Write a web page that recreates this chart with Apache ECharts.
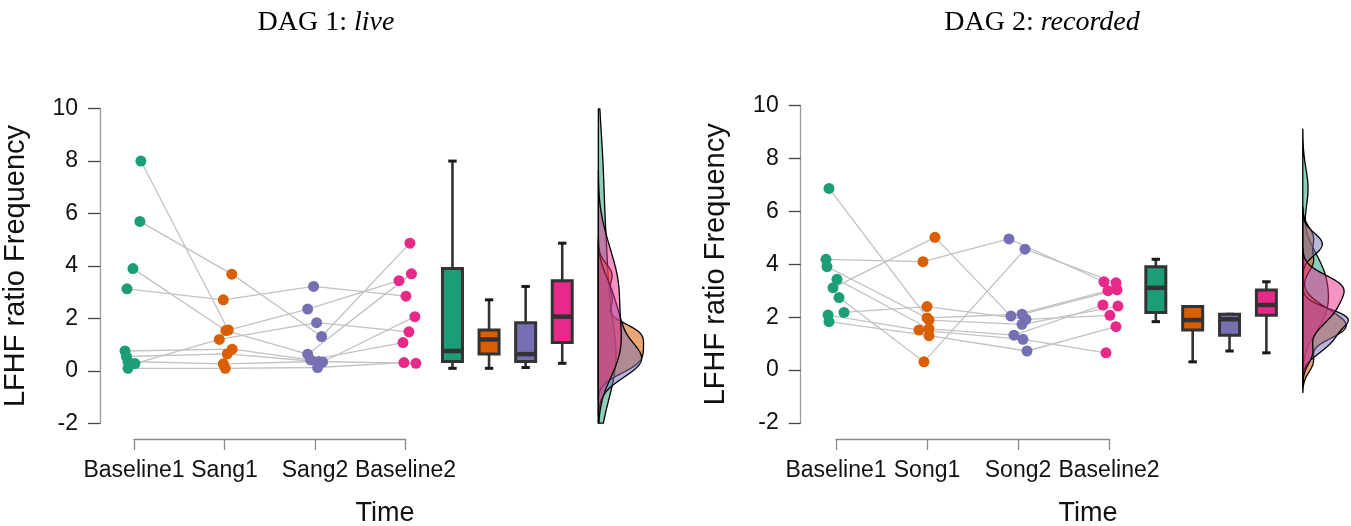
<!DOCTYPE html>
<html>
<head>
<meta charset="utf-8">
<script src="https://cdn.jsdelivr.net/npm/echarts@6/dist/echarts.min.js"></script>
<style>
  html, body { margin: 0; padding: 0; background: #ffffff; }
  #chart { width: 1351px; height: 526px; }
</style>
</head>
<body>
<div id="chart"></div>
<script>
// ---- data -------------------------------------------------------------
const timeLabelsLive = ['Baseline1', 'Sang1', 'Sang2', 'Baseline2'];
const timeLabelsRecorded = ['Baseline1', 'Song1', 'Song2', 'Baseline2'];
const yTickValues = [-2, 0, 2, 4, 6, 8, 10];

// LF/HF ratio, one entry per participant (same participant order in every array)
// DAG 1: live
const liveBaseline1 = [8.00, 5.70, 3.90, 3.13, 0.76, 0.55, 0.28, 0.36, 0.10];
const liveSang1     = [1.56, 3.69, 1.54, 2.71, 0.83, 0.65, 1.20, 0.27, 0.10];
const liveSang2     = [2.36, 1.31, 0.64, 3.22, 0.42, 0.34, 1.84, 0.36, 0.13];
const liveBaseline2 = [3.44, 4.87, 3.70, 2.85, 1.08, 2.07, 1.49, 0.29, 0.32];

// DAG 2: recorded
const recBaseline1 = [6.87, 4.19, 3.91, 3.43, 3.11, 2.74, 2.18, 2.08, 1.83];
const recSong1     = [1.89, 4.10, 1.97, 1.56, 5.02, 0.31, 2.40, 1.51, 1.30];
const recSong2     = [1.73, 4.96, 2.11, 1.32, 2.04, 4.57, 1.92, 1.16, 0.72];
const recBaseline2 = [2.42, 3.34, 3.03, 2.46, 3.00, 3.30, 2.07, 0.65, 1.64];

// horizontal jitter of the dots, in fractions of one time step
const liveJitter = [
  [0.066, 0.055, -0.022, -0.088, -0.110, -0.094, 0.000, -0.077, -0.077],
  [0.033, 0.072, 0.006, -0.022, 0.077, 0.022, -0.066, -0.022, 0.000],
  [-0.088, 0.066, -0.088, -0.022, -0.055, 0.077, 0.011, 0.033, 0.022],
  [-0.077, 0.044, 0.061, 0.000, -0.033, 0.099, 0.033, 0.110, -0.022]
];
const recJitter = [
  [-0.077, -0.110, -0.099, 0.011, -0.033, 0.033, 0.088, -0.088, -0.077],
  [0.022, -0.044, 0.000, 0.022, 0.088, -0.033, 0.000, -0.088, 0.022],
  [0.044, -0.099, 0.044, -0.044, -0.077, 0.077, 0.088, 0.055, 0.099],
  [0.099, -0.055, 0.088, -0.066, -0.011, 0.077, 0.011, -0.033, 0.077]
];

// ---- styling ----------------------------------------------------------
const groupColors = ['#1B9E77', '#D95F02', '#7570B3', '#E7298A'];
const densityFills = ['rgba(27,158,119,0.5)', 'rgba(217,95,2,0.55)', 'rgba(117,112,179,0.5)', 'rgba(231,41,138,0.5)'];
const SANS = '"Liberation Sans", Arial, Helvetica, sans-serif';
const SERIF = '"Liberation Serif", "Times New Roman", serif';
const Y_MIN = yTickValues[0], Y_MAX = yTickValues[yTickValues.length - 1];
const Y_STEP = yTickValues[1] - yTickValues[0];

// ---- statistics -------------------------------------------------------
function quantile(sorted, p) {
  const h = (sorted.length - 1) * p;
  const lo = Math.floor(h);
  const hi = Math.min(lo + 1, sorted.length - 1);
  return sorted[lo] + (h - lo) * (sorted[hi] - sorted[lo]);
}
function boxStats(vals) {
  const s = [...vals].sort((a, b) => a - b);
  const q1 = quantile(s, 0.25), med = quantile(s, 0.5), q3 = quantile(s, 0.75);
  const iqr = q3 - q1;
  const lo = s.find(v => v >= q1 - 1.5 * iqr);
  const hi = [...s].reverse().find(v => v <= q3 + 1.5 * iqr);
  return [lo, q1, med, q3, hi];
}
function bandwidth(x) {
  const n = x.length;
  const mean = x.reduce((a, b) => a + b, 0) / n;
  const sd = Math.sqrt(x.reduce((a, b) => a + (b - mean) * (b - mean), 0) / (n - 1));
  const s = [...x].sort((a, b) => a - b);
  const iqr = quantile(s, 0.75) - quantile(s, 0.25);
  let lo = Math.min(sd, iqr / 1.34);
  if (!(lo > 0)) lo = sd || 1;
  return 0.9 * lo * Math.pow(n, -0.2);
}
// Gaussian kernel density on 512 points, kept inside the y range
function density(x) {
  const bw = bandwidth(x);
  const from = Math.min(...x) - 3 * bw, to = Math.max(...x) + 3 * bw;
  const out = [];
  for (let i = 0; i < 512; i++) {
    const y = from + (to - from) * i / 511;
    if (y < Y_MIN || y > Y_MAX) continue;
    let d = 0;
    for (const v of x) { const z = (y - v) / bw; d += Math.exp(-0.5 * z * z); }
    out.push([y, d / (x.length * bw * Math.sqrt(2 * Math.PI))]);
  }
  return out;
}

// ---- one raincloud panel ----------------------------------------------
function buildPanel(p) {
  const { groups, jitter, labels, axisX, tick1X, step, top, bottom, xMax, gi } = p;
  const xMin = 1 - (tick1X - axisX) / step;
  const mainGrid = { left: axisX, top: top, width: (xMax - xMin) * step, height: bottom - top };
  const axisGrid = { left: tick1X, top: 438, width: 3 * step, height: 1 };

  const xAxes = [
    { gridIndex: gi * 2, type: 'value', min: xMin, max: xMax, show: false },
    {
      gridIndex: gi * 2 + 1, type: 'category', data: labels, boundaryGap: false,
      axisLine: { lineStyle: { color: '#8a8a8a', width: 1.3 } },
      axisTick: { length: 11, lineStyle: { color: '#8a8a8a', width: 1.3 } },
      axisLabel: { interval: 0, margin: 20, fontSize: 23, color: '#111', fontFamily: SANS }
    }
  ];
  const yAxes = [
    {
      gridIndex: gi * 2, type: 'value', min: Y_MIN, max: Y_MAX, interval: Y_STEP,
      axisLine: { show: true, lineStyle: { color: '#9a9a9a', width: 1.3 } },
      axisTick: { show: true, length: 12, lineStyle: { color: '#444', width: 1.3 } },
      axisLabel: { margin: 22, fontSize: 23, color: '#111', fontFamily: SANS },
      splitLine: { show: false },
      name: 'LFHF ratio Frequency', nameLocation: 'middle', nameRotate: 90, nameGap: 70,
      nameTextStyle: { fontSize: 29, color: '#111', fontFamily: SANS }
    },
    { gridIndex: gi * 2 + 1, type: 'value', show: false }
  ];

  const xi = gi * 2, yi = gi * 2;
  const series = [];
  const n = groups[0].length;

  // participant trajectories
  for (let s = 0; s < n; s++) {
    series.push({
      type: 'line', xAxisIndex: xi, yAxisIndex: yi, silent: true, symbol: 'none', z: 1,
      lineStyle: { color: '#c2c2c2', width: 1.3 },
      data: groups.map((g, k) => [k + 1 + jitter[k][s], g[s]])
    });
  }
  // dots
  groups.forEach((g, k) => {
    series.push({
      type: 'scatter', xAxisIndex: xi, yAxisIndex: yi, silent: true, z: 3,
      symbolSize: 11, itemStyle: { color: groupColors[k], opacity: 1 },
      data: g.map((v, s) => [k + 1 + jitter[k][s], v])
    });
  });
  // box plots
  const boxData = groups.map((g, k) => [4.515 + k * 0.405].concat(boxStats(g)).concat([k]));
  series.push({
    type: 'custom', xAxisIndex: xi, yAxisIndex: yi, silent: true, z: 2,
    data: boxData,
    renderItem: (params, api) => {
      const x = api.value(0);
      const [lo, q1, med, q3, hi, k] = [1, 2, 3, 4, 5, 6].map(d => api.value(d));
      const pLo = api.coord([x, lo]), pQ1 = api.coord([x, q1]), pMed = api.coord([x, med]);
      const pQ3 = api.coord([x, q3]), pHi = api.coord([x, hi]);
      const cx = pLo[0], half = 10, cap = 4.2, dark = '#333333';
      return {
        type: 'group',
        children: [
          { type: 'line', shape: { x1: cx, y1: pHi[1], x2: cx, y2: pLo[1] }, style: { stroke: dark, lineWidth: 2.6 } },
          { type: 'line', shape: { x1: cx - cap, y1: pHi[1], x2: cx + cap, y2: pHi[1] }, style: { stroke: '#1a1a1a', lineWidth: 3 } },
          { type: 'line', shape: { x1: cx - cap, y1: pLo[1], x2: cx + cap, y2: pLo[1] }, style: { stroke: '#1a1a1a', lineWidth: 3 } },
          { type: 'rect', shape: { x: cx - half, y: pQ3[1], width: 2 * half, height: pQ1[1] - pQ3[1] },
            style: { fill: groupColors[k], stroke: dark, lineWidth: 3 } },
          { type: 'line', shape: { x1: cx - half, y1: pMed[1], x2: cx + half, y2: pMed[1] }, style: { stroke: dark, lineWidth: 4.5 } }
        ]
      };
    }
  });
  // half-violin densities sharing one baseline, scaled by the panel-wide peak
  const curves = groups.map(density);
  const peak = Math.max(...curves.map(c => Math.max(...c.map(q => q[1]))));
  const base = 6.13, maxWidth = 0.5;
  curves.forEach((c, k) => {
    series.push({
      type: 'custom', xAxisIndex: xi, yAxisIndex: yi, silent: true, z: 2,
      data: [[base, c[0][0]]],
      renderItem: (params, api) => {
        const outer = c.map(([y, d]) => api.coord([base + d / peak * maxWidth, y]));
        const inner = [api.coord([base, c[c.length - 1][0]]), api.coord([base, c[0][0]])];
        return {
          type: 'polygon',
          shape: { points: outer.concat(inner) },
          style: { fill: densityFills[k], stroke: '#000', lineWidth: 1.3, lineJoin: 'round' }
        };
      }
    });
  });

  return { grids: [mainGrid, axisGrid], xAxes, yAxes, series };
}

const left = buildPanel({
  groups: [liveBaseline1, liveSang1, liveSang2, liveBaseline2], jitter: liveJitter, labels: timeLabelsLive,
  axisX: 99, tick1X: 134, step: 90.5, top: 108.6, bottom: 423.4, xMax: 6.75, gi: 0
});
const right = buildPanel({
  groups: [recBaseline1, recSong1, recSong2, recBaseline2], jitter: recJitter, labels: timeLabelsRecorded,
  axisX: 800.7, tick1X: 836, step: 91, top: 105.7, bottom: 422.9, xMax: 6.66, gi: 1
});

const titleText = (text, x, y, rich) => ({
  type: 'text', x: x, y: y,
  style: Object.assign({
    text: text, align: 'center', verticalAlign: 'middle', textAlign: 'center', textVerticalAlign: 'middle'
  }, rich)
});
const titleRich = {
  n: { fontFamily: SERIF, fontSize: 28, fill: '#000' },
  i: { fontFamily: SERIF, fontSize: 28, fontStyle: 'italic', fill: '#000' }
};

const chart = echarts.init(document.getElementById('chart'), null, { renderer: 'canvas' });
chart.setOption({
  animation: false,
  backgroundColor: '#ffffff',
  grid: left.grids.concat(right.grids),
  xAxis: left.xAxes.concat(right.xAxes),
  yAxis: left.yAxes.concat(right.yAxes),
  series: left.series.concat(right.series),
  graphic: [
    titleText('{n|DAG 1: }{i|live}', 326, 23, { rich: titleRich }),
    titleText('{n|DAG 2: }{i|recorded}', 1042, 23, { rich: titleRich }),
    titleText('Time', 385, 514, { font: '27px ' + SANS, fill: '#111' }),
    titleText('Time', 1088, 514, { font: '27px ' + SANS, fill: '#111' })
  ]
});
</script>
</body>
</html>
